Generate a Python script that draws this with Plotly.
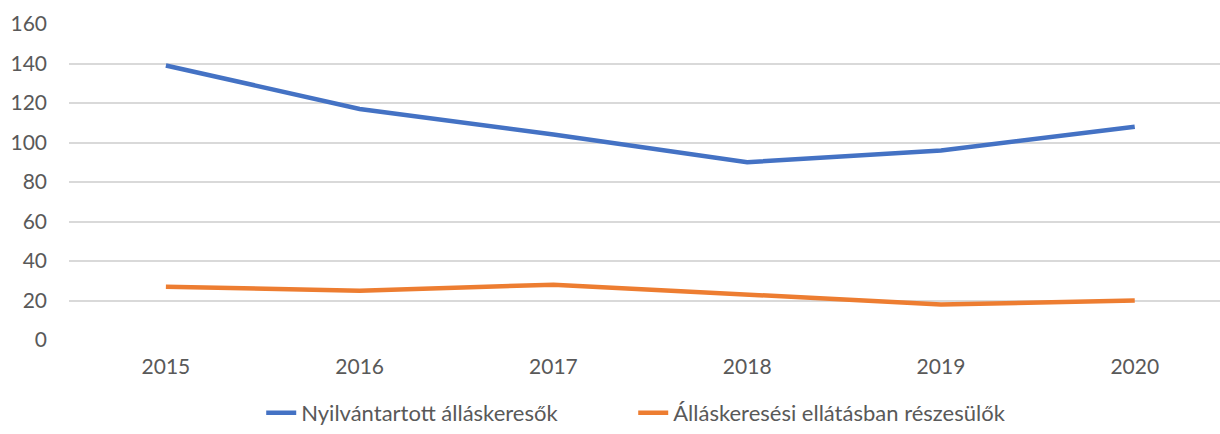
import plotly.graph_objects as go

years = ["2015", "2016", "2017", "2018", "2019", "2020"]
nyilvantartott = [139, 117, 104, 90, 96, 108]
ellatasban = [27, 25, 28, 23, 18, 20]

blue = "#4472C4"
orange = "#ED7D31"
txt = "#595959"

fig = go.Figure()
fig.add_trace(go.Scatter(x=years, y=nyilvantartott, mode="lines",
    name="Nyilvántartott álláskeresők", line=dict(color=blue, width=4.5)))
fig.add_trace(go.Scatter(x=years, y=ellatasban, mode="lines",
    name="Álláskeresési ellátásban részesülők", line=dict(color=orange, width=4.5)))

fig.update_layout(
    width=1220, height=434,
    margin=dict(l=69, r=0, t=24, b=94, autoexpand=False),
    paper_bgcolor="white", plot_bgcolor="white",
    font=dict(family="Lato, Open Sans, sans-serif", size=21, color=txt),
    showlegend=True,
    legend=dict(orientation="h", x=0.167, xanchor="left", y=-0.014, yanchor="bottom",
        yref="container", font=dict(size=22, color=txt), borderwidth=0,
        entrywidth=327, entrywidthmode="pixels"),
    xaxis=dict(type="category", range=[-0.5, 5.44], showgrid=False, zeroline=False,
        showline=False, ticks="", ticklabelstandoff=12, automargin=False,
        tickfont=dict(size=21, color=txt)),
    yaxis=dict(range=[0, 160], dtick=20, showgrid=True, gridcolor="#D9D9D9", gridwidth=1.5,
        zeroline=False, showline=False, ticks="", ticklabelstandoff=21, automargin=False,
        tickfont=dict(size=21, color=txt)),
)

# page has a default 8px body margin, drop it so the chart sits at 0,0
fig.write_html("out.html", config={"displayModeBar": False},
    post_script="document.body.style.margin='0';")
